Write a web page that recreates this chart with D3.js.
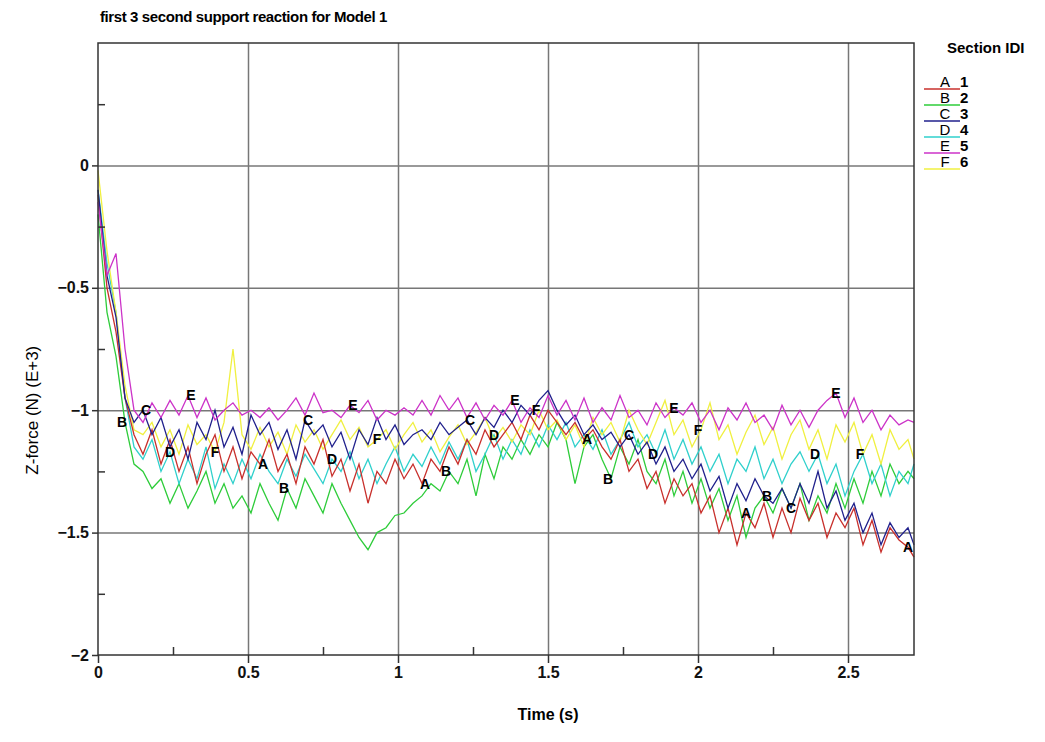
<!DOCTYPE html>
<html>
<head>
<meta charset="utf-8">
<script src="https://cdn.jsdelivr.net/npm/d3@7"></script>
<style>
  body { margin: 0; background: #fff; }
  svg { font-family: 'Liberation Sans', Arial, sans-serif; }
</style>
</head>
<body>
<div id="chart"></div>
<script>
// sample times (s)
const times = [
  0, 0.03, 0.06, 0.09, 0.12, 0.15, 0.18, 0.21, 0.24, 0.27,
  0.3, 0.33, 0.36, 0.39, 0.42, 0.45, 0.48, 0.51, 0.54, 0.57,
  0.6, 0.63, 0.66, 0.69, 0.72, 0.75, 0.78, 0.81, 0.84, 0.87,
  0.9, 0.93, 0.96, 0.99, 1.02, 1.05, 1.08, 1.11, 1.14, 1.17,
  1.2, 1.23, 1.26, 1.29, 1.32, 1.35, 1.38, 1.41, 1.44, 1.47,
  1.5, 1.53, 1.56, 1.59, 1.62, 1.65, 1.68, 1.71, 1.74, 1.77,
  1.8, 1.83, 1.86, 1.89, 1.92, 1.95, 1.98, 2.01, 2.04, 2.07,
  2.1, 2.13, 2.16, 2.19, 2.22, 2.25, 2.28, 2.31, 2.34, 2.37,
  2.4, 2.43, 2.46, 2.49, 2.52, 2.55, 2.58, 2.61, 2.64, 2.67,
  2.7, 2.72
]

// Z-force (E+3 N) per section
const sectionA = [
  -0.12, -0.5, -0.68, -0.95, -1.1, -1.18, -1.08, -1.22, -1.12, -1.25,
  -1.15, -1.3, -1.18, -1.1, -1.25, -1.15, -1.28, -1.17, -1.22, -1.12,
  -1.25, -1.18, -1.3, -1.15, -1.22, -1.12, -1.27, -1.2, -1.33, -1.22,
  -1.38, -1.25, -1.3, -1.2, -1.28, -1.22, -1.3, -1.2, -1.25, -1.15,
  -1.22, -1.12, -1.18, -1.08, -1.15, -1.1, -1.05, -1.12, -1.02, -1.08,
  -1.0, -1.05, -1.1, -1.05, -1.12, -1.08, -1.15, -1.2, -1.12, -1.25,
  -1.2, -1.32, -1.25, -1.38, -1.28, -1.35, -1.3, -1.42, -1.35, -1.5,
  -1.4, -1.55, -1.42, -1.48, -1.38, -1.52, -1.4, -1.5, -1.36, -1.45,
  -1.38, -1.52, -1.42, -1.48, -1.4, -1.55, -1.45, -1.58, -1.48, -1.53,
  -1.56, -1.6
]
const sectionB = [
  -0.2, -0.6, -0.78, -1.05, -1.22, -1.25, -1.32, -1.28, -1.38, -1.3,
  -1.4, -1.33, -1.25, -1.38, -1.3, -1.4, -1.35, -1.42, -1.3, -1.38,
  -1.45, -1.32, -1.4, -1.28, -1.35, -1.42, -1.3, -1.38, -1.45, -1.52,
  -1.57, -1.5, -1.48, -1.43, -1.42, -1.38, -1.35, -1.3, -1.33, -1.25,
  -1.3, -1.2, -1.35, -1.18, -1.28, -1.15, -1.2, -1.12, -1.18, -1.1,
  -1.15, -1.05, -1.12, -1.3, -1.15, -1.1, -1.2, -1.28, -1.15, -1.22,
  -1.12, -1.25, -1.3, -1.2, -1.35, -1.25, -1.38, -1.28, -1.4, -1.32,
  -1.45, -1.35, -1.52, -1.4, -1.35, -1.42, -1.32, -1.4, -1.3, -1.45,
  -1.35, -1.42, -1.3, -1.4, -1.28, -1.38, -1.25, -1.35, -1.22, -1.3,
  -1.25, -1.28
]
const sectionC = [
  -0.1, -0.45, -0.62, -0.95, -1.05, -1.0, -1.1, -1.03, -1.15, -1.08,
  -1.2, -1.05, -1.12, -1.0, -1.15, -1.07, -1.18, -1.02, -1.1, -1.05,
  -1.16, -1.08, -1.2, -1.04, -1.1, -1.06, -1.15, -1.09, -1.2, -1.08,
  -1.14, -1.03, -1.12, -1.06, -1.14, -1.1, -1.08, -1.12, -1.05, -1.1,
  -1.07, -1.04, -1.1, -1.03, -1.07, -1.0, -1.05, -0.98, -1.02, -0.96,
  -0.92, -1.0, -1.06, -1.02, -1.1, -1.06, -1.12, -1.09, -1.15, -1.1,
  -1.18, -1.13, -1.22, -1.15, -1.25, -1.2, -1.28, -1.22, -1.33, -1.27,
  -1.4, -1.3, -1.37, -1.28, -1.35, -1.38, -1.32, -1.4, -1.3, -1.38,
  -1.25, -1.4, -1.33, -1.45, -1.38, -1.5, -1.42, -1.55, -1.46, -1.52,
  -1.48, -1.55
]
const sectionD = [
  -0.1, -0.4, -0.6, -0.95, -1.15, -1.2, -1.12, -1.25, -1.17, -1.3,
  -1.2, -1.28, -1.15, -1.32, -1.22, -1.3, -1.2, -1.28, -1.18, -1.25,
  -1.3, -1.2, -1.27, -1.18, -1.24, -1.3, -1.2, -1.25, -1.17, -1.28,
  -1.2, -1.3, -1.22, -1.15, -1.25, -1.18, -1.23, -1.15, -1.22, -1.13,
  -1.2, -1.12, -1.25, -1.18, -1.1, -1.2, -1.12, -1.18, -1.08, -1.15,
  -1.06, -1.12, -1.05, -1.15, -1.1, -1.16, -1.08, -1.18, -1.12, -1.05,
  -1.15, -1.1, -1.18, -1.08, -1.2, -1.12, -1.22, -1.15, -1.25, -1.18,
  -1.3, -1.2, -1.25, -1.15, -1.28, -1.2, -1.3, -1.22, -1.17, -1.25,
  -1.18, -1.3, -1.22, -1.35, -1.25, -1.18, -1.3, -1.22, -1.35, -1.25,
  -1.3, -1.22
]
const sectionE = [
  -0.15, -0.45, -0.36, -0.75, -1.0, -1.05, -0.97, -1.03, -0.96, -1.02,
  -0.94, -1.03, -0.95, -1.04, -1.0, -0.97, -1.02, -1.0, -1.03, -0.99,
  -1.04, -1.0, -0.95, -1.02, -0.93, -1.01, -1.0, -1.03, -0.98, -1.01,
  -0.96, -1.04, -1.0, -1.02, -0.99, -1.02, -0.96, -1.02, -0.94, -1.0,
  -0.95, -1.03, -0.97, -1.04, -0.98, -1.02, -0.96, -1.05, -0.99, -1.03,
  -0.94, -1.02, -0.96, -1.04, -0.95, -1.05, -0.99, -1.04, -0.94, -1.03,
  -1.0, -1.06, -0.97, -1.03, -0.99, -1.02, -0.97, -1.05, -1.0, -1.08,
  -0.99, -1.04, -0.97, -1.05, -1.02, -1.08, -0.98, -1.06, -1.0, -1.07,
  -1.0, -0.96, -0.93, -1.03, -0.95, -1.05, -1.0, -1.08, -1.02, -1.06,
  -1.04, -1.05
]
const sectionF = [
  -0.02, -0.35, -0.6, -0.9, -1.08, -1.1, -1.05, -1.15, -1.08, -1.18,
  -1.06, -1.14, -1.1, -1.17, -1.05, -0.75, -1.1, -1.16, -1.07, -1.15,
  -1.09, -1.18, -1.06, -1.13, -1.08, -1.16, -1.1, -1.04, -1.12, -1.07,
  -1.15, -1.12, -1.08, -1.16, -1.1, -1.05, -1.13, -1.08, -1.17, -1.11,
  -1.06, -1.14, -1.09, -1.03, -1.12, -1.07, -1.13, -1.06, -1.1, -1.0,
  -1.08, -1.04, -1.12, -1.06, -1.15, -1.03, -1.1, -1.05, -1.13, -1.0,
  -1.08, -1.14, -1.05, -0.96, -1.1, -1.04, -1.15, -1.08, -0.97, -1.12,
  -1.06, -1.18, -1.09, -1.02, -1.14, -1.07, -1.2, -1.1, -1.04, -1.16,
  -1.08, -1.2, -1.06, -1.13, -1.05, -1.18, -1.1, -1.22, -1.08, -1.16,
  -1.12, -1.2
]

const letters = ['A', 'B', 'C', 'D', 'E', 'F']
const sectionIds = ['1', '2', '3', '4', '5', '6']
const colors = ['#c8302c', '#2ecc3a', '#20208c', '#2fd0cc', '#cc33c8', '#f0f040']
const seriesValues = [sectionA, sectionB, sectionC, sectionD, sectionE, sectionF]
// times where the curve letters sit
const labelTimes = [
  [0.55, 1.09, 1.63, 2.16, 2.7],
  [0.08, 0.62, 1.16, 1.7, 2.23],
  [0.16, 0.7, 1.24, 1.77, 2.31],
  [0.24, 0.78, 1.32, 1.85, 2.39],
  [0.31, 0.85, 1.39, 1.92, 2.46],
  [0.39, 0.93, 1.46, 2.0, 2.54]
]
const xTicks = [0, 0.5, 1, 1.5, 2, 2.5]
const xMinor = [0.25, 0.75, 1.25, 1.75, 2.25]
const yTicks = [-2, -1.5, -1, -0.5, 0]
const yMinor = [-1.75, -1.25, -0.75, -0.25, 0.25]

const margin = { top: 43, left: 98, right: 131, bottom: 87 }
const W = 1045
const H = 742
const width = W - margin.left - margin.right
const height = H - margin.top - margin.bottom

const svg = d3.select('#chart').append('svg')
  .attr('width', W)
  .attr('height', H)

const g = svg.append('g')
  .attr('transform', `translate(${margin.left},${margin.top})`)

const x = d3.scaleLinear().domain([0, 2.72]).range([0, width])
const y = d3.scaleLinear().domain([-2, 0.5]).range([height, 0])

// grid
g.append('g')
  .attr('transform', `translate(0,${height})`)
  .call(d3.axisBottom(x).tickValues(xTicks.slice(1)).tickSize(-height).tickFormat(''))
  .call(a => a.select('.domain').remove())
  .selectAll('line').attr('stroke', '#777').attr('stroke-width', 1.5)
g.append('g')
  .call(d3.axisLeft(y).tickValues(yTicks.slice(1)).tickSize(-width).tickFormat(''))
  .call(a => a.select('.domain').remove())
  .selectAll('line').attr('stroke', '#777').attr('stroke-width', 1.5)

// series
const line = d3.line()
  .x((d, i) => x(times[i]))
  .y(d => y(d))

const drawOrder = [1, 3, 5, 0, 2, 4]
g.append('g').selectAll('path')
  .data(drawOrder)
  .join('path')
  .attr('fill', 'none')
  .attr('stroke', k => colors[k])
  .attr('stroke-width', 1.3)
  .attr('d', k => line(seriesValues[k]))

// curve letters
const labels = []
labelTimes.forEach((ts, k) => {
  ts.forEach(t => {
    const i = d3.minIndex(times, v => Math.abs(v - t))
    labels.push({ t: t, v: seriesValues[k][i], text: letters[k] })
  })
})
g.append('g').selectAll('text')
  .data(labels)
  .join('text')
  .attr('x', d => x(d.t))
  .attr('y', d => y(d.v))
  .attr('dy', '0.35em')
  .attr('text-anchor', 'middle')
  .style('font-size', '14px')
  .style('font-weight', 'bold')
  .text(d => d.text)

// frame
g.append('rect')
  .attr('width', width)
  .attr('height', height)
  .attr('fill', 'none')
  .attr('stroke', '#333')
  .attr('stroke-width', 1.5)

// axes
const tickLabel = d => (d < 0 ? '\u2212' + String(-d) : String(d))

const styleAxis = a => {
  a.select('.domain').remove()
  a.selectAll('.tick line').attr('stroke', '#333').attr('stroke-width', 1.5)
  a.selectAll('.tick text')
    .attr('fill', '#111')
    .style('font-size', '16px')
    .style('font-weight', 'bold')
    .style('font-family', "'Liberation Sans', Arial, sans-serif")
}

g.append('g')
  .attr('transform', `translate(0,${height})`)
  .call(d3.axisBottom(x).tickValues(xTicks).tickSize(8).tickPadding(4).tickFormat(tickLabel))
  .call(styleAxis)
g.append('g')
  .attr('transform', `translate(0,${height})`)
  .call(d3.axisBottom(x).tickValues(xMinor).tickSize(-8).tickFormat(() => ''))
  .call(styleAxis)

g.append('g')
  .call(d3.axisLeft(y).tickValues(yTicks).tickSize(6).tickPadding(3).tickFormat(tickLabel))
  .call(styleAxis)
g.append('g')
  .call(d3.axisLeft(y).tickValues(yMinor).tickSize(-7).tickFormat(() => ''))
  .call(styleAxis)

// titles
svg.append('text')
  .attr('x', 100)
  .attr('y', 22)
  .style('font-size', '15px')
  .style('font-weight', 'bold')
  .style('letter-spacing', '-0.4px')
  .text('first 3 second support reaction for Model 1')

svg.append('text')
  .attr('x', margin.left + x(1.5))
  .attr('y', 720)
  .attr('text-anchor', 'middle')
  .style('font-size', '16px')
  .style('font-weight', 'bold')
  .text('Time (s)')

svg.append('text')
  .attr('transform', `translate(38,${margin.top + y(-1)}) rotate(-90)`)
  .attr('text-anchor', 'middle')
  .style('font-size', '17px')
  .text('Z-force (N) (E+3)')

// legend
const legend = svg.append('g').attr('transform', 'translate(924,0)')
legend.append('text')
  .attr('x', 23)
  .attr('y', 53)
  .style('font-size', '15px')
  .style('font-weight', 'bold')
  .text('Section IDI')

const item = legend.selectAll('.item')
  .data(letters)
  .join('g')
  .attr('class', 'item')
  .attr('transform', (d, i) => `translate(0,${87 + i * 16})`)
item.append('line')
  .attr('x1', 0)
  .attr('x2', 36)
  .attr('y1', 2)
  .attr('y2', 2)
  .attr('stroke', (d, i) => colors[i])
  .attr('stroke-width', 1.5)
item.append('text')
  .attr('x', 21)
  .attr('text-anchor', 'middle')
  .style('font-size', '15px')
  .text(d => d)
item.append('text')
  .attr('x', 36)
  .style('font-size', '15px')
  .style('font-weight', 'bold')
  .text((d, i) => sectionIds[i])
</script>
</body>
</html>
